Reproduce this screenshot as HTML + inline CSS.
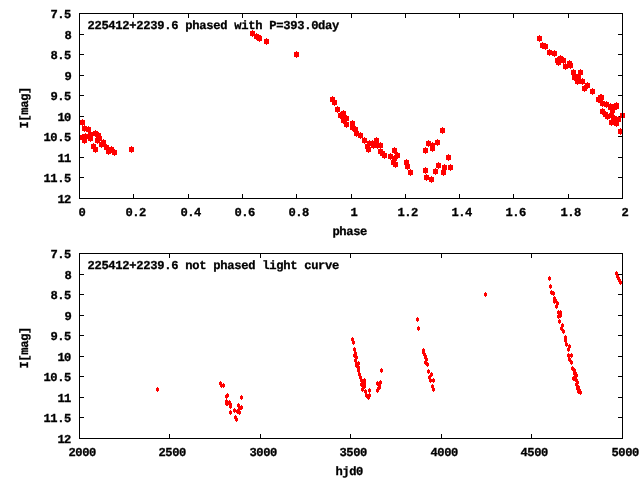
<!DOCTYPE html><html><head><meta charset="utf-8"><style>html,body{margin:0;padding:0;background:#fff;width:640px;height:480px;overflow:hidden}svg{display:block;will-change:transform}text{font-family:"Liberation Mono",monospace;font-weight:bold;text-rendering:geometricPrecision;font-size:12.150px;fill:#000;stroke:#000;stroke-width:0.3px}</style></head><body>
<svg width="640" height="480" viewBox="0 0 640 480" shape-rendering="crispEdges">
<rect width="640" height="480" fill="#fff"/>
<path fill="#000" d="M80 13h4v1h-4zM618 13h4v1h-4zM80 34h4v1h-4zM618 34h4v1h-4zM80 54h4v1h-4zM618 54h4v1h-4zM80 75h4v1h-4zM618 75h4v1h-4zM80 95h4v1h-4zM618 95h4v1h-4zM80 116h4v1h-4zM618 116h4v1h-4zM80 136h4v1h-4zM618 136h4v1h-4zM80 157h4v1h-4zM618 157h4v1h-4zM80 177h4v1h-4zM618 177h4v1h-4zM80 198h4v1h-4zM618 198h4v1h-4zM79 14h1v4h-1zM79 194h1v4h-1zM133 14h1v4h-1zM133 194h1v4h-1zM188 14h1v4h-1zM188 194h1v4h-1zM242 14h1v4h-1zM242 194h1v4h-1zM296 14h1v4h-1zM296 194h1v4h-1zM351 14h1v4h-1zM351 194h1v4h-1zM405 14h1v4h-1zM405 194h1v4h-1zM459 14h1v4h-1zM459 194h1v4h-1zM513 14h1v4h-1zM513 194h1v4h-1zM568 14h1v4h-1zM568 194h1v4h-1zM622 14h1v4h-1zM622 194h1v4h-1zM80 253h4v1h-4zM618 253h4v1h-4zM80 274h4v1h-4zM618 274h4v1h-4zM80 294h4v1h-4zM618 294h4v1h-4zM80 315h4v1h-4zM618 315h4v1h-4zM80 335h4v1h-4zM618 335h4v1h-4zM80 356h4v1h-4zM618 356h4v1h-4zM80 376h4v1h-4zM618 376h4v1h-4zM80 397h4v1h-4zM618 397h4v1h-4zM80 417h4v1h-4zM618 417h4v1h-4zM80 438h4v1h-4zM618 438h4v1h-4zM79 254h1v4h-1zM79 434h1v4h-1zM169 254h1v4h-1zM169 434h1v4h-1zM260 254h1v4h-1zM260 434h1v4h-1zM350 254h1v4h-1zM350 434h1v4h-1zM441 254h1v4h-1zM441 434h1v4h-1zM531 254h1v4h-1zM531 434h1v4h-1zM622 254h1v4h-1zM622 434h1v4h-1z"/>
<path fill="#f00" d="M80 120h5v5h-5zM82 119h1v7h-1zM82 126h5v5h-5zM84 125h1v7h-1zM86 127h5v5h-5zM88 126h1v7h-1zM80 135h5v5h-5zM82 134h1v7h-1zM83 134h5v5h-5zM85 133h1v7h-1zM82 138h5v5h-5zM84 137h1v7h-1zM88 132h5v5h-5zM90 131h1v7h-1zM88 136h5v5h-5zM90 135h1v7h-1zM93 131h5v5h-5zM95 130h1v7h-1zM96 133h5v5h-5zM98 132h1v7h-1zM95 138h5v5h-5zM97 137h1v7h-1zM91 144h5v5h-5zM93 143h1v7h-1zM93 147h5v5h-5zM95 146h1v7h-1zM99 142h5v5h-5zM101 141h1v7h-1zM97 136h5v5h-5zM99 135h1v7h-1zM101 140h5v5h-5zM103 139h1v7h-1zM104 145h5v5h-5zM106 144h1v7h-1zM106 149h5v5h-5zM108 148h1v7h-1zM109 147h5v5h-5zM111 146h1v7h-1zM112 150h5v5h-5zM114 149h1v7h-1zM129 147h5v5h-5zM131 146h1v7h-1zM250 31h5v5h-5zM252 30h1v7h-1zM254 34h5v5h-5zM256 33h1v7h-1zM256 35h5v5h-5zM258 34h1v7h-1zM257 36h5v5h-5zM259 35h1v7h-1zM264 39h5v5h-5zM266 38h1v7h-1zM294 52h5v5h-5zM296 51h1v7h-1zM330 97h5v5h-5zM332 96h1v7h-1zM332 100h5v5h-5zM334 99h1v7h-1zM335 107h5v5h-5zM337 106h1v7h-1zM338 113h5v5h-5zM340 112h1v7h-1zM341 111h5v5h-5zM343 110h1v7h-1zM344 116h5v5h-5zM346 115h1v7h-1zM341 118h5v5h-5zM343 117h1v7h-1zM344 122h5v5h-5zM346 121h1v7h-1zM350 121h5v5h-5zM352 120h1v7h-1zM350 125h5v5h-5zM352 124h1v7h-1zM353 127h5v5h-5zM355 126h1v7h-1zM354 131h5v5h-5zM356 130h1v7h-1zM358 133h5v5h-5zM360 132h1v7h-1zM362 138h5v5h-5zM364 137h1v7h-1zM367 141h5v5h-5zM369 140h1v7h-1zM365 144h5v5h-5zM367 143h1v7h-1zM366 147h5v5h-5zM368 146h1v7h-1zM370 141h5v5h-5zM372 140h1v7h-1zM374 138h5v5h-5zM376 137h1v7h-1zM371 143h5v5h-5zM373 142h1v7h-1zM375 143h5v5h-5zM377 142h1v7h-1zM378 143h5v5h-5zM380 142h1v7h-1zM380 151h5v5h-5zM382 150h1v7h-1zM378 149h5v5h-5zM380 148h1v7h-1zM382 153h5v5h-5zM384 152h1v7h-1zM392 148h5v5h-5zM394 147h1v7h-1zM388 154h5v5h-5zM390 153h1v7h-1zM395 153h5v5h-5zM397 152h1v7h-1zM392 156h5v5h-5zM394 155h1v7h-1zM391 160h5v5h-5zM393 159h1v7h-1zM393 162h5v5h-5zM395 161h1v7h-1zM404 160h5v5h-5zM406 159h1v7h-1zM405 164h5v5h-5zM407 163h1v7h-1zM408 170h5v5h-5zM410 169h1v7h-1zM423 148h5v5h-5zM425 147h1v7h-1zM426 141h5v5h-5zM428 140h1v7h-1zM430 143h5v5h-5zM432 142h1v7h-1zM430 146h5v5h-5zM432 145h1v7h-1zM435 140h5v5h-5zM437 139h1v7h-1zM440 128h5v5h-5zM442 127h1v7h-1zM423 168h5v5h-5zM425 167h1v7h-1zM424 175h5v5h-5zM426 174h1v7h-1zM429 177h5v5h-5zM431 176h1v7h-1zM433 169h5v5h-5zM435 168h1v7h-1zM436 163h5v5h-5zM438 162h1v7h-1zM442 165h5v5h-5zM444 164h1v7h-1zM441 170h5v5h-5zM443 169h1v7h-1zM446 155h5v5h-5zM448 154h1v7h-1zM448 165h5v5h-5zM450 164h1v7h-1zM537 36h5v5h-5zM539 35h1v7h-1zM540 43h5v5h-5zM542 42h1v7h-1zM543 44h5v5h-5zM545 43h1v7h-1zM547 50h5v5h-5zM549 49h1v7h-1zM552 51h5v5h-5zM554 50h1v7h-1zM555 58h5v5h-5zM557 57h1v7h-1zM556 60h5v5h-5zM558 59h1v7h-1zM558 56h5v5h-5zM560 55h1v7h-1zM561 58h5v5h-5zM563 57h1v7h-1zM563 64h5v5h-5zM565 63h1v7h-1zM567 61h5v5h-5zM569 60h1v7h-1zM568 63h5v5h-5zM570 62h1v7h-1zM571 70h5v5h-5zM573 69h1v7h-1zM578 70h5v5h-5zM580 69h1v7h-1zM572 75h5v5h-5zM574 74h1v7h-1zM576 74h5v5h-5zM578 73h1v7h-1zM575 79h5v5h-5zM577 78h1v7h-1zM580 79h5v5h-5zM582 78h1v7h-1zM582 86h5v5h-5zM584 85h1v7h-1zM585 83h5v5h-5zM587 82h1v7h-1zM590 89h5v5h-5zM592 88h1v7h-1zM596 97h5v5h-5zM598 96h1v7h-1zM598 95h5v5h-5zM600 94h1v7h-1zM599 95h5v5h-5zM601 94h1v7h-1zM600 101h5v5h-5zM602 100h1v7h-1zM604 102h5v5h-5zM606 101h1v7h-1zM608 104h5v5h-5zM610 103h1v7h-1zM614 103h5v5h-5zM616 102h1v7h-1zM597 97h5v5h-5zM599 96h1v7h-1zM608 105h5v5h-5zM610 104h1v7h-1zM610 108h5v5h-5zM612 107h1v7h-1zM611 105h5v5h-5zM613 104h1v7h-1zM614 104h5v5h-5zM616 103h1v7h-1zM600 109h5v5h-5zM602 108h1v7h-1zM603 112h5v5h-5zM605 111h1v7h-1zM605 114h5v5h-5zM607 113h1v7h-1zM609 113h5v5h-5zM611 112h1v7h-1zM612 116h5v5h-5zM614 115h1v7h-1zM616 117h5v5h-5zM618 116h1v7h-1zM609 120h5v5h-5zM611 119h1v7h-1zM614 121h5v5h-5zM616 120h1v7h-1zM620 113h5v5h-5zM622 112h1v7h-1zM618 129h5v5h-5zM620 128h1v7h-1z"/>
<path fill="#f00" d="M156 388h3v3h-3zM157 387h1v5h-1zM219 382h3v3h-3zM220 381h1v5h-1zM220 384h3v3h-3zM221 383h1v5h-1zM222 384h3v3h-3zM223 383h1v5h-1zM226 394h3v3h-3zM227 393h1v5h-1zM225 395h3v3h-3zM226 394h1v5h-1zM225 400h3v3h-3zM226 399h1v5h-1zM225 402h3v3h-3zM226 401h1v5h-1zM226 402h3v3h-3zM227 401h1v5h-1zM228 401h3v3h-3zM229 400h1v5h-1zM229 403h3v3h-3zM230 402h1v5h-1zM229 405h3v3h-3zM230 404h1v5h-1zM229 411h3v3h-3zM230 410h1v5h-1zM233 409h3v3h-3zM234 408h1v5h-1zM234 416h3v3h-3zM235 415h1v5h-1zM235 418h3v3h-3zM236 417h1v5h-1zM236 410h3v3h-3zM237 409h1v5h-1zM238 411h3v3h-3zM239 410h1v5h-1zM237 404h3v3h-3zM238 403h1v5h-1zM238 407h3v3h-3zM239 406h1v5h-1zM240 406h3v3h-3zM241 405h1v5h-1zM240 396h3v3h-3zM241 395h1v5h-1zM351 338h3v3h-3zM352 337h1v5h-1zM352 341h3v3h-3zM353 340h1v5h-1zM353 348h3v3h-3zM354 347h1v5h-1zM354 352h3v3h-3zM355 351h1v5h-1zM353 354h3v3h-3zM354 353h1v5h-1zM355 356h3v3h-3zM356 355h1v5h-1zM354 359h3v3h-3zM355 358h1v5h-1zM355 362h3v3h-3zM356 361h1v5h-1zM357 362h3v3h-3zM358 361h1v5h-1zM357 366h3v3h-3zM358 365h1v5h-1zM355 364h3v3h-3zM356 363h1v5h-1zM357 367h3v3h-3zM358 366h1v5h-1zM357 369h3v3h-3zM358 368h1v5h-1zM358 373h3v3h-3zM359 372h1v5h-1zM359 376h3v3h-3zM360 375h1v5h-1zM360 379h3v3h-3zM361 378h1v5h-1zM363 379h3v3h-3zM364 378h1v5h-1zM360 383h3v3h-3zM361 382h1v5h-1zM361 381h3v3h-3zM362 380h1v5h-1zM362 384h3v3h-3zM363 383h1v5h-1zM363 382h3v3h-3zM364 381h1v5h-1zM363 385h3v3h-3zM364 384h1v5h-1zM361 388h3v3h-3zM362 387h1v5h-1zM364 390h3v3h-3zM365 389h1v5h-1zM368 389h3v3h-3zM369 388h1v5h-1zM365 394h3v3h-3zM366 393h1v5h-1zM368 394h3v3h-3zM369 393h1v5h-1zM367 396h3v3h-3zM368 395h1v5h-1zM380 369h3v3h-3zM381 368h1v5h-1zM376 382h3v3h-3zM377 381h1v5h-1zM379 381h3v3h-3zM380 380h1v5h-1zM378 386h3v3h-3zM379 385h1v5h-1zM378 384h3v3h-3zM379 383h1v5h-1zM377 387h3v3h-3zM378 386h1v5h-1zM376 389h3v3h-3zM377 388h1v5h-1zM416 318h3v3h-3zM417 317h1v5h-1zM417 327h3v3h-3zM418 326h1v5h-1zM422 349h3v3h-3zM423 348h1v5h-1zM422 351h3v3h-3zM423 350h1v5h-1zM423 353h3v3h-3zM424 352h1v5h-1zM424 355h3v3h-3zM425 354h1v5h-1zM424 356h3v3h-3zM425 355h1v5h-1zM425 358h3v3h-3zM426 357h1v5h-1zM424 361h3v3h-3zM425 360h1v5h-1zM426 363h3v3h-3zM427 362h1v5h-1zM427 370h3v3h-3zM428 369h1v5h-1zM430 373h3v3h-3zM431 372h1v5h-1zM428 376h3v3h-3zM429 375h1v5h-1zM429 379h3v3h-3zM430 378h1v5h-1zM432 379h3v3h-3zM433 378h1v5h-1zM431 385h3v3h-3zM432 384h1v5h-1zM432 388h3v3h-3zM433 387h1v5h-1zM484 293h3v3h-3zM485 292h1v5h-1zM548 277h3v3h-3zM549 276h1v5h-1zM549 285h3v3h-3zM550 284h1v5h-1zM550 291h3v3h-3zM551 290h1v5h-1zM552 292h3v3h-3zM553 291h1v5h-1zM553 297h3v3h-3zM554 296h1v5h-1zM554 299h3v3h-3zM555 298h1v5h-1zM553 300h3v3h-3zM554 299h1v5h-1zM556 302h3v3h-3zM557 301h1v5h-1zM555 305h3v3h-3zM556 304h1v5h-1zM557 311h3v3h-3zM558 310h1v5h-1zM559 311h3v3h-3zM560 310h1v5h-1zM557 315h3v3h-3zM558 314h1v5h-1zM559 314h3v3h-3zM560 313h1v5h-1zM558 320h3v3h-3zM559 319h1v5h-1zM561 324h3v3h-3zM562 323h1v5h-1zM560 327h3v3h-3zM561 326h1v5h-1zM562 330h3v3h-3zM563 329h1v5h-1zM564 336h3v3h-3zM565 335h1v5h-1zM564 339h3v3h-3zM565 338h1v5h-1zM565 343h3v3h-3zM566 342h1v5h-1zM568 345h3v3h-3zM569 344h1v5h-1zM567 348h3v3h-3zM568 347h1v5h-1zM567 354h3v3h-3zM568 353h1v5h-1zM570 354h3v3h-3zM571 353h1v5h-1zM568 358h3v3h-3zM569 357h1v5h-1zM570 361h3v3h-3zM571 360h1v5h-1zM571 367h3v3h-3zM572 366h1v5h-1zM573 369h3v3h-3zM574 368h1v5h-1zM574 372h3v3h-3zM575 371h1v5h-1zM575 374h3v3h-3zM576 373h1v5h-1zM573 372h3v3h-3zM574 371h1v5h-1zM572 377h3v3h-3zM573 376h1v5h-1zM573 377h3v3h-3zM574 376h1v5h-1zM575 379h3v3h-3zM576 378h1v5h-1zM576 381h3v3h-3zM577 380h1v5h-1zM575 383h3v3h-3zM576 382h1v5h-1zM576 387h3v3h-3zM577 386h1v5h-1zM577 386h3v3h-3zM578 385h1v5h-1zM577 390h3v3h-3zM578 389h1v5h-1zM578 389h3v3h-3zM579 388h1v5h-1zM579 391h3v3h-3zM580 390h1v5h-1zM615 272h3v3h-3zM616 271h1v5h-1zM616 275h3v3h-3zM617 274h1v5h-1zM617 277h3v3h-3zM618 276h1v5h-1zM618 279h3v3h-3zM619 278h1v5h-1zM619 281h3v3h-3zM620 280h1v5h-1z"/>
<path fill="#000" d="M79 13h544v1h-544zM79 198h544v1h-544zM79 13h1v186h-1zM622 13h1v186h-1zM79 253h544v1h-544zM79 438h544v1h-544zM79 253h1v186h-1zM622 253h1v186h-1z"/>
<text x="50.4" y="18" textLength="21" lengthAdjust="spacing">7.5</text>
<text x="64.4" y="39" textLength="7" lengthAdjust="spacing">8</text>
<text x="50.4" y="59" textLength="21" lengthAdjust="spacing">8.5</text>
<text x="64.4" y="80" textLength="7" lengthAdjust="spacing">9</text>
<text x="50.4" y="100" textLength="21" lengthAdjust="spacing">9.5</text>
<text x="57.4" y="121" textLength="14" lengthAdjust="spacing">10</text>
<text x="43.4" y="141" textLength="28" lengthAdjust="spacing">10.5</text>
<text x="57.4" y="162" textLength="14" lengthAdjust="spacing">11</text>
<text x="43.4" y="182" textLength="28" lengthAdjust="spacing">11.5</text>
<text x="57.4" y="203" textLength="14" lengthAdjust="spacing">12</text>
<text x="78.4" y="216" textLength="7" lengthAdjust="spacing">0</text>
<text x="125.4" y="216" textLength="21" lengthAdjust="spacing">0.2</text>
<text x="180.4" y="216" textLength="21" lengthAdjust="spacing">0.4</text>
<text x="234.4" y="216" textLength="21" lengthAdjust="spacing">0.6</text>
<text x="288.4" y="216" textLength="21" lengthAdjust="spacing">0.8</text>
<text x="350.4" y="216" textLength="7" lengthAdjust="spacing">1</text>
<text x="397.4" y="216" textLength="21" lengthAdjust="spacing">1.2</text>
<text x="451.4" y="216" textLength="21" lengthAdjust="spacing">1.4</text>
<text x="505.4" y="216" textLength="21" lengthAdjust="spacing">1.6</text>
<text x="560.4" y="216" textLength="21" lengthAdjust="spacing">1.8</text>
<text x="621.4" y="216" textLength="7" lengthAdjust="spacing">2</text>
<text x="50.4" y="258" textLength="21" lengthAdjust="spacing">7.5</text>
<text x="64.4" y="279" textLength="7" lengthAdjust="spacing">8</text>
<text x="50.4" y="299" textLength="21" lengthAdjust="spacing">8.5</text>
<text x="64.4" y="320" textLength="7" lengthAdjust="spacing">9</text>
<text x="50.4" y="340" textLength="21" lengthAdjust="spacing">9.5</text>
<text x="57.4" y="361" textLength="14" lengthAdjust="spacing">10</text>
<text x="43.4" y="381" textLength="28" lengthAdjust="spacing">10.5</text>
<text x="57.4" y="402" textLength="14" lengthAdjust="spacing">11</text>
<text x="43.4" y="422" textLength="28" lengthAdjust="spacing">11.5</text>
<text x="57.4" y="443" textLength="14" lengthAdjust="spacing">12</text>
<text x="68.4" y="456" textLength="28" lengthAdjust="spacing">2000</text>
<text x="158.4" y="456" textLength="28" lengthAdjust="spacing">2500</text>
<text x="249.4" y="456" textLength="28" lengthAdjust="spacing">3000</text>
<text x="339.4" y="456" textLength="28" lengthAdjust="spacing">3500</text>
<text x="430.4" y="456" textLength="28" lengthAdjust="spacing">4000</text>
<text x="520.4" y="456" textLength="28" lengthAdjust="spacing">4500</text>
<text x="611.4" y="456" textLength="28" lengthAdjust="spacing">5000</text>
<text x="87.4" y="29" textLength="252" lengthAdjust="spacing">225412+2239.6 phased with P=393.0day</text>
<text x="87.4" y="269" textLength="252" lengthAdjust="spacing">225412+2239.6 not phased light curve</text>
<text x="332.4" y="235" textLength="35" lengthAdjust="spacing">phase</text>
<text x="335.4" y="475" textLength="28" lengthAdjust="spacing">hjd0</text>
<text transform="translate(28 128) rotate(-90)" x="-0.6" y="0" textLength="42" lengthAdjust="spacing">I[mag]</text>
<text transform="translate(28 368) rotate(-90)" x="-0.6" y="0" textLength="42" lengthAdjust="spacing">I[mag]</text>
</svg></body></html>
